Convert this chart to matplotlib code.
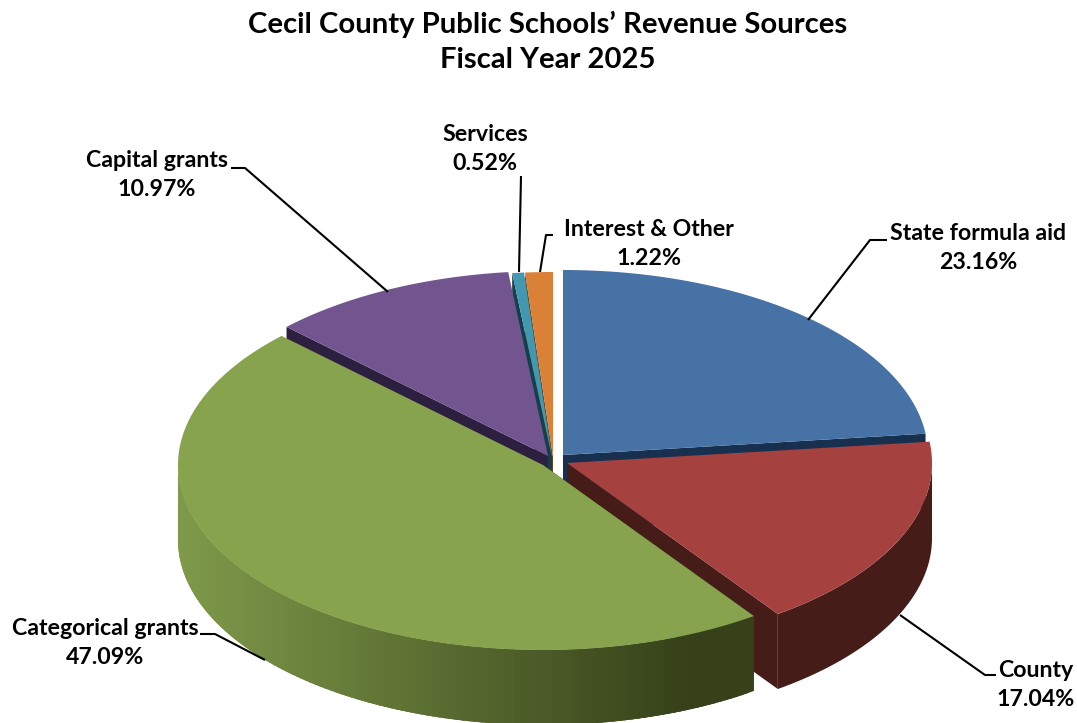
# Cecil County Public Schools revenue sources, drawn as a tilted 3D pie
import numpy as np
import matplotlib
matplotlib.use("Agg")
import matplotlib.pyplot as plt
from matplotlib.colors import to_rgb

plt.rcParams["font.family"] = ["Lato", "DejaVu Sans"]

sources = ["State formula aid", "County", "Categorical grants",
           "Capital grants", "Services", "Interest & Other"]
shares = [23.16, 17.04, 47.09, 10.97, 0.52, 1.22]

top_colors = ["#4672A6", "#A54240", "#87A34D", "#72558F", "#4198AF", "#DA8137"]
dark_colors = ["#17304F", "#451C17", "#364119", "#2C1F3F", "#163F4E", "#6B3F16"]

# pie geometry in pixels
cx, cy = 552, 457
rx, ry = 365, 185
depth = 75
explode = [(11, -2), (15, 6), (-9, 8), (-4, -1), (0, 0), (1, 0)]

# back to front
draw_order = [5, 4, 3, 0, 1, 2]

fig = plt.figure(figsize=(10.77, 7.23), dpi=100)
ax = fig.add_axes([0, 0, 1, 1])
ax.set_xlim(0, 1077)
ax.set_ylim(723, 0)
ax.axis("off")

edges = np.concatenate([[0], np.cumsum(shares)]) / sum(shares) * 360


def rim(ox, oy, angles):
    rad = np.radians(angles)
    return cx + ox + rx * np.sin(rad), cy + oy - ry * np.cos(rad)


def side_color(x, dark):
    # the big slice fades from left to right along its rim
    t = np.clip((x - 178) / (690 - 178), 0, 1)
    left = np.array(to_rgb("#7F9A4A"))
    right = np.array(to_rgb(dark))
    return tuple(left + (right - left) * t)


for i in draw_order:
    ox, oy = explode[i]
    start, end = edges[i], edges[i + 1]
    apex = (cx + ox, cy + oy)
    base, dark = top_colors[i], dark_colors[i]

    # cut face along one radius of the slice
    cut_angle = end if i in (0, 1) else start
    ex, ey = rim(ox, oy, np.array([cut_angle]))
    ax.fill([apex[0], ex[0], ex[0], apex[0]],
            [apex[1], ey[0], ey[0] + depth, apex[1] + depth],
            color=dark, lw=0, zorder=1)

    # outer wall, only where the rim faces the viewer
    lo, hi = max(start, 90), min(end, 270)
    if hi > lo and i == 2:
        steps = np.linspace(lo, hi, int(hi - lo) + 2)
        # right to left so each strip overlaps the one before it
        for a0, a1 in zip(steps[:-1], steps[1:]):
            xs, ys = rim(ox, oy, np.array([a0, min(a1 + 1.5, hi)]))
            ax.fill([xs[0], xs[1], xs[1], xs[0]],
                    [ys[0], ys[1], ys[1] + depth, ys[0] + depth],
                    color=side_color(rim(ox, oy, a0)[0], dark), lw=0, zorder=1)
    elif hi > lo:
        xs, ys = rim(ox, oy, np.linspace(lo, hi, 120))
        ax.fill(np.r_[xs, xs[::-1]], np.r_[ys, ys[::-1] + depth],
                color=dark, lw=0, zorder=1)

    # top surface
    arc = np.linspace(start, end, 200)
    xs, ys = rim(ox, oy, arc)
    ax.fill(np.r_[apex[0], xs], np.r_[apex[1], ys], color=base, lw=0, zorder=1)

# leader lines
leaders = [
    ([808, 870, 887], [320, 240, 240]),
    ([900, 985, 996], [615, 675, 675]),
    ([200, 215, 265], [634, 634, 660]),
    ([231, 245, 388], [168, 168, 292]),
    ([521, 519], [176, 272]),
    ([553, 546, 540], [235, 235, 272]),
]
for lx, ly in leaders:
    ax.plot(lx, ly, color="black", lw=1.5, zorder=2, solid_capstyle="butt")

# data labels
label_pos = [(978, 248), (1036, 685), (105, 643), (157, 175), (485, 149), (649, 244)]
for name, share, (lx, ly) in zip(sources, shares, label_pos):
    ax.text(lx, ly, f"{name}\n{share:.2f}%", ha="center", va="center",
            fontsize=16.7, fontweight="bold", linespacing=1.52, zorder=3)

ax.text(548, 42, "Cecil County Public Schools\u2019 Revenue Sources\nFiscal Year 2025",
        ha="center", va="center", fontsize=21.1, fontweight="bold", linespacing=1.45)

fig.savefig("out.png", dpi=100)
